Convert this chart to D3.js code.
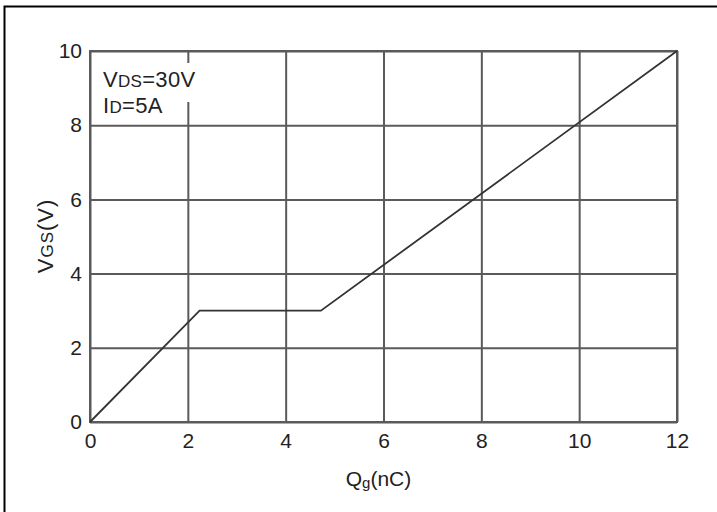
<!DOCTYPE html>
<html>
<head>
<meta charset="utf-8">
<script src="https://cdn.jsdelivr.net/npm/d3@7/dist/d3.min.js"></script>
<style>
  html, body { margin: 0; padding: 0; background: #fff; }
  svg { display: block; }
  text { font-family: "Liberation Sans", Arial, sans-serif; fill: #222; }
</style>
</head>
<body>
<svg id="chart" width="717" height="512"></svg>
<script>
// Gate charge curve: Qg (nC) vs VGS (V)
const qgValues  = [0, 2.24, 4.72, 12];
const vgsValues = [0, 3, 3, 10];
const xTicks = [0, 2, 4, 6, 8, 10, 12];
const yTicks = [0, 2, 4, 6, 8, 10];
const conditions = [
  { main: "V", sub: "DS", rest: "=30V" },
  { main: "I", sub: "D", rest: "=5A" }
];

const W = 717, H = 512;
const m = { left: 90, right: 40, top: 51, bottom: 90 };
const svg = d3.select("#chart");

const x = d3.scaleLinear().domain([0, 12]).range([m.left, W - m.right]);
const y = d3.scaleLinear().domain([0, 10]).range([H - m.bottom, m.top]);

// page frame (left and top edges)
svg.append("path")
  .attr("d", `M4.5,${H} L4.5,6.5 L${W},6.5`)
  .attr("fill", "none").attr("stroke", "#000").attr("stroke-width", 2);

const gridColor = "#5a5a5a";

// grid lines
const xAxis = d3.axisBottom(x).tickValues(xTicks).tickSize(-(y(0) - y(10))).tickSizeOuter(0).tickPadding(11);
const yAxis = d3.axisLeft(y).tickValues(yTicks).tickSize(-(x(12) - x(0))).tickSizeOuter(0).tickPadding(8);

const gx = svg.append("g").attr("transform", `translate(0,${y(0)})`).call(xAxis);
const gy = svg.append("g").attr("transform", `translate(${x(0)},0)`).call(yAxis);
[gx, gy].forEach(g => {
  g.select(".domain").remove();
  g.selectAll(".tick line").attr("stroke", gridColor).attr("stroke-width", 2);
  g.selectAll(".tick text")
    .style("font-family", "'Liberation Sans', Arial, sans-serif")
    .style("font-size", "21px").attr("fill", "#222");
});

// plot frame
svg.append("rect")
  .attr("x", x(0)).attr("y", y(10))
  .attr("width", x(12) - x(0)).attr("height", y(0) - y(10))
  .attr("fill", "none").attr("stroke", gridColor).attr("stroke-width", 2);

// condition labels, first line on a white patch
svg.append("rect").attr("x", x(0) + 8).attr("y", 63).attr("width", 112).attr("height", 39).attr("fill", "#fff");
conditions.forEach((c, i) => {
  const t = svg.append("text").attr("x", x(0) + 13).attr("y", 87 + i * 26)
    .style("font-size", "22px").style("letter-spacing", "0.3px");
  t.append("tspan").text(c.main);
  t.append("tspan").style("font-size", "17px").text(c.sub);
  t.append("tspan").text(c.rest);
});

// gate charge curve
const line = d3.line().x(d => x(d[0])).y(d => y(d[1]));
svg.append("path")
  .datum(qgValues.map((q, i) => [q, vgsValues[i]]))
  .attr("d", line)
  .attr("fill", "none").attr("stroke", "#333").attr("stroke-width", 1.8);

// axis titles
const xt = svg.append("text").attr("x", (x(0) + x(12)) / 2 - 5).attr("y", 486)
  .attr("text-anchor", "middle").style("font-size", "21px");
xt.append("tspan").text("Q");
xt.append("tspan").style("font-size", "15px").attr("dy", 2).text("g");
xt.append("tspan").attr("dy", -2).text("(nC)");

const yt = svg.append("text")
  .attr("transform", `translate(53,236) rotate(-90)`)
  .attr("text-anchor", "middle").style("font-size", "22px").style("letter-spacing", "1px");
yt.append("tspan").text("V");
yt.append("tspan").style("font-size", "17px").text("GS");
yt.append("tspan").text("(V)");
</script>
</body>
</html>
